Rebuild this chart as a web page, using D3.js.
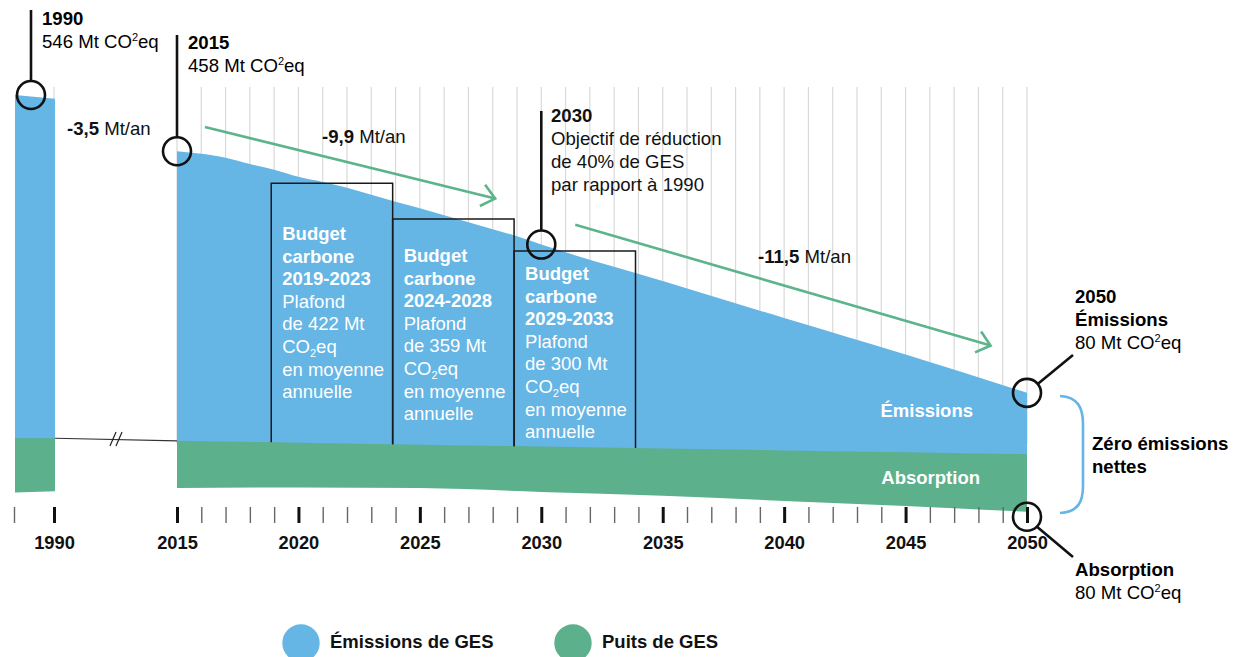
<!DOCTYPE html>
<html>
<head>
<meta charset="utf-8">
<script src="https://cdn.jsdelivr.net/npm/d3@7"></script>
<style>
  body { margin: 0; background: #fff; }
  svg { display: block; font-family: "Liberation Sans", Arial, sans-serif; }
</style>
</head>
<body>
<div id="chart"></div>
<script>
// ---- data (Mt CO2eq) ----
var years     = [2015, 2016, 2017, 2018, 2019, 2020, 2021, 2022, 2023, 2024, 2025, 2026, 2027, 2028, 2029, 2030, 2035, 2040, 2045, 2050];
var emissions = [458, 454, 448, 438, 429, 418, 410, 401, 390, 379, 369, 358, 347, 336, 325, 312, 255, 197, 140, 80];

// sink band: top edge of the band and its thickness
var sinkYears = [2015, 2020, 2025, 2030, 2035, 2040, 2045, 2050];
var sinkTop   = [5, 2, -1, -4, -7, -10, -13, -16];
var sinks     = [74, 70, 68, 71, 74, 79, 84, 90];

// 1990 block (before the axis break)
var oldYears     = [1989, 1990];
var oldEmissions = [546, 540];
var oldSinkTop   = [9, 9];
var oldSinks     = [85, 83];

// carbon budgets
var budgetNames  = ["2019-2023", "2024-2028", "2029-2033"];
var budgetStart  = [2019, 2024, 2029];
var budgetLevels = [408, 352, 302];
var budgetCaps   = [422, 359, 300];

var rates = ["-3,5", "-9,9", "-11,5"];
var axisYears = d3.range(2015, 2051);
var legendLabels = ["Émissions de GES", "Puits de GES"];

// ---- setup ----
var svgWidth = 1247, svgHeight = 657;
var blue = "#65b5e5", green = "#5cb08b", arrowGreen = "#5cb48b";
var fs = 18.6;

var svg = d3.select("#chart").append("svg")
    .attr("width", svgWidth)
    .attr("height", svgHeight);

var x = d3.scaleLinear().domain([2015, 2050]).range([177, 1027]);
var xOld = d3.scaleLinear().domain([1989, 1990]).range([15, 55]);
var y = d3.scaleLinear().domain([0, 546]).range([444, 95]);

// top edge of the sink band, per year
var base = d3.scaleLinear().domain(sinkYears).range(sinkTop);

// grid lines
svg.append("g").selectAll("line")
    .data(axisYears)
    .enter().append("line")
    .attr("x1", d => x(d)).attr("x2", d => x(d))
    .attr("y1", 87).attr("y2", y(0))
    .attr("stroke", "#d9d9d9").attr("stroke-width", 1.2);
svg.append("line")
    .attr("x1", xOld(1990) - 1).attr("x2", xOld(1990) - 1)
    .attr("y1", 87).attr("y2", y(0))
    .attr("stroke", "#d9d9d9").attr("stroke-width", 1.2);

// emissions areas
var emData = years.map((yr, i) => ({ yr: yr, e: emissions[i], b: base(yr) }));
var emArea = d3.area()
    .x(d => x(d.yr))
    .y0(d => y(d.b - 3))
    .y1(d => y(d.e))
    .curve(d3.curveMonotoneX);
svg.append("path").datum(emData).attr("d", emArea).attr("fill", blue);

var oldData = oldYears.map((yr, i) => ({ yr: yr, e: oldEmissions[i], b: oldSinkTop[i], s: oldSinks[i] }));
svg.append("path").datum(oldData)
    .attr("d", d3.area().x(d => xOld(d.yr)).y0(d => y(d.b - 3)).y1(d => y(d.e)))
    .attr("fill", blue);

// sink areas
var sinkData = sinkYears.map((yr, i) => ({ yr: yr, t: sinkTop[i], s: sinks[i] }));
svg.append("path").datum(sinkData)
    .attr("d", d3.area().x(d => x(d.yr)).y0(d => y(d.t - d.s)).y1(d => y(d.t)).curve(d3.curveMonotoneX))
    .attr("fill", green);
svg.append("path").datum(oldData)
    .attr("d", d3.area().x(d => xOld(d.yr)).y0(d => y(d.b - d.s)).y1(d => y(d.b)))
    .attr("fill", green);

// axis break
svg.append("line")
    .attr("x1", xOld(1990)).attr("y1", y(oldSinkTop[1]))
    .attr("x2", x(2015)).attr("y2", y(sinkTop[0]))
    .attr("stroke", "#333").attr("stroke-width", 1.2);
[110, 116].forEach(function(sx) {
    svg.append("line")
        .attr("x1", sx).attr("y1", 446).attr("x2", sx + 6).attr("y2", 432)
        .attr("stroke", "#222").attr("stroke-width", 1.2);
});

// budget boxes
budgetStart.forEach(function(start, i) {
    var x0 = x(start - 0.12), x1 = x(start + 4.88);
    var top = y(budgetLevels[i]);
    svg.append("path")
        .attr("d", "M" + x0 + "," + y(base(start - 0.12)) + "V" + top + "H" + x1 + "V" + y(base(start + 4.88)))
        .attr("fill", "none").attr("stroke", "#1a1a1a").attr("stroke-width", 1.5);
});

var labelTop = [240, 262, 280];
budgetStart.forEach(function(start, i) {
    var tx = x(start - 0.12) + 11;
    var g = svg.append("g").attr("fill", "#fff").attr("font-size", 18.5);
    var lines = [
        { t: "Budget", b: true }, { t: "carbone", b: true }, { t: budgetNames[i], b: true },
        { t: "Plafond" }, { t: "de " + budgetCaps[i] + " Mt" }, { t: "CO2eq", sub: true },
        { t: "en moyenne" }, { t: "annuelle" }
    ];
    lines.forEach(function(l, k) {
        var t = g.append("text").attr("x", tx).attr("y", labelTop[i] + k * 22.6)
            .attr("font-weight", l.b ? "bold" : "normal");
        if (l.sub) {
            t.append("tspan").text("CO");
            t.append("tspan").attr("font-size", 11).attr("dy", 4).text("2");
            t.append("tspan").attr("dy", -4).text("eq");
        } else {
            t.text(l.t);
        }
    });
});

// axes
var axis = d3.axisBottom(x)
    .tickValues(axisYears)
    .tickSize(16)
    .tickPadding(13)
    .tickFormat(d => d % 5 === 0 ? d : "");
var gx = svg.append("g").attr("transform", "translate(0,507)").call(axis);

var axisOld = d3.axisBottom(xOld)
    .tickValues(oldYears)
    .tickSize(16)
    .tickPadding(13)
    .tickFormat(d => d === 1990 ? d : "");
var gxo = svg.append("g").attr("transform", "translate(-1,507)").call(axisOld);

[gx, gxo].forEach(function(g) {
    g.select(".domain").remove();
    g.selectAll(".tick line")
        .attr("stroke", d => d % 5 === 0 ? "#111" : "#666")
        .attr("stroke-width", d => d % 5 === 0 ? 3 : 1.4);
    g.selectAll(".tick text")
        .attr("font-size", 18.3).attr("font-weight", "bold")
        .attr("fill", "#111").style("font-family", "Liberation Sans, Arial, sans-serif");
});

// rate arrows
function arrow(from, to) {
    var p0 = [x(from[0]), y(from[1])], p1 = [x(to[0]), y(to[1])];
    var ang = Math.atan2(p1[1] - p0[1], p1[0] - p0[0]);
    var L = 17, a = 40 * Math.PI / 180;
    var g = svg.append("g").attr("stroke", arrowGreen).attr("stroke-width", 2.6).attr("fill", "none");
    g.append("line").attr("x1", p0[0]).attr("y1", p0[1]).attr("x2", p1[0]).attr("y2", p1[1]);
    g.append("path").attr("d",
        "M" + (p1[0] - L * Math.cos(ang - a)) + "," + (p1[1] - L * Math.sin(ang - a)) +
        "L" + p1[0] + "," + p1[1] +
        "L" + (p1[0] - L * Math.cos(ang + a)) + "," + (p1[1] - L * Math.sin(ang + a)));
}
arrow([2016.15, 496], [2028.1, 384]);
arrow([2031.4, 343], [2048.5, 154]);

function rateLabel(tx, ty, val) {
    var t = svg.append("text").attr("x", tx).attr("y", ty).attr("font-size", fs).attr("fill", "#111");
    t.append("tspan").attr("font-weight", "bold").text(val);
    t.append("tspan").text(" Mt/an");
}
rateLabel(67, 135, rates[0]);
rateLabel(322, 143, rates[1]);
rateLabel(758, 263, rates[2]);

// annotations
function co2(t, val) {
    t.append("tspan").text(val + " Mt CO");
    t.append("tspan").attr("font-size", 11).attr("dy", -7).text("2");
    t.append("tspan").attr("dy", 7).text("eq");
}
function marker(cx, cy) {
    svg.append("circle").attr("cx", cx).attr("cy", cy).attr("r", 14)
        .attr("fill", "none").attr("stroke", "#111").attr("stroke-width", 2.6);
}
function stem(cx, y1, y2) {
    svg.append("line").attr("x1", cx).attr("x2", cx).attr("y1", y1).attr("y2", y2)
        .attr("stroke", "#111").attr("stroke-width", 2.6);
}

var c1990 = [xOld(1989.4), y(oldEmissions[0])];
stem(c1990[0], 10, c1990[1] - 14);
marker(c1990[0], c1990[1]);
svg.append("text").attr("x", 42).attr("y", 25).attr("font-size", fs).attr("font-weight", "bold").text("1990");
co2(svg.append("text").attr("x", 42).attr("y", 48).attr("font-size", fs), 546);

var c2015 = [x(2015), y(emissions[0])];
stem(c2015[0], 35, c2015[1] - 14);
marker(c2015[0], c2015[1]);
svg.append("text").attr("x", 188).attr("y", 49).attr("font-size", fs).attr("font-weight", "bold").text("2015");
co2(svg.append("text").attr("x", 188).attr("y", 72).attr("font-size", fs), 458);

var c2030 = [x(2030), y(emissions[years.indexOf(2030)])];
stem(c2030[0], 111, c2030[1] - 14);
marker(c2030[0], c2030[1]);
var t2030 = svg.append("g").attr("font-size", fs).attr("fill", "#111");
t2030.append("text").attr("x", 551).attr("y", 122).attr("font-weight", "bold").text("2030");
["Objectif de réduction", "de 40% de GES", "par rapport à 1990"].forEach(function(s, k) {
    t2030.append("text").attr("x", 551).attr("y", 145 + k * 22.8).text(s);
});

var c2050e = [x(2050), y(emissions[emissions.length - 1])];
marker(c2050e[0], c2050e[1]);
svg.append("line").attr("x1", c2050e[0] + 11).attr("y1", c2050e[1] - 9).attr("x2", 1073).attr("y2", 355)
    .attr("stroke", "#111").attr("stroke-width", 2.6);
svg.append("text").attr("x", 1075).attr("y", 303).attr("font-size", fs).attr("font-weight", "bold").text("2050");
svg.append("text").attr("x", 1075).attr("y", 326).attr("font-size", fs).attr("font-weight", "bold").text("Émissions");
co2(svg.append("text").attr("x", 1075).attr("y", 349).attr("font-size", fs), 80);

var c2050a = [x(2050), y(sinkTop[sinkTop.length - 1] - sinks[sinks.length - 1]) + 5];
marker(c2050a[0], c2050a[1]);
svg.append("line").attr("x1", c2050a[0] + 10).attr("y1", c2050a[1] + 10).attr("x2", 1073).attr("y2", 557)
    .attr("stroke", "#111").attr("stroke-width", 2.6);
svg.append("text").attr("x", 1075).attr("y", 576).attr("font-size", fs).attr("font-weight", "bold").text("Absorption");
co2(svg.append("text").attr("x", 1075).attr("y", 599).attr("font-size", fs), 80);

// band labels
svg.append("text").attr("x", 973).attr("y", 417).attr("text-anchor", "end")
    .attr("font-size", 18.5).attr("font-weight", "bold").attr("fill", "#fff").text("Émissions");
svg.append("text").attr("x", 980).attr("y", 484).attr("text-anchor", "end")
    .attr("font-size", 18.5).attr("font-weight", "bold").attr("fill", "#fff").text("Absorption");

// net zero brace
svg.append("path")
    .attr("d", "M1060,396 C1078,397 1083,408 1083,424 V486 C1083,502 1078,512 1060,513")
    .attr("fill", "none").attr("stroke", blue).attr("stroke-width", 2.6);
svg.append("text").attr("x", 1092).attr("y", 450).attr("font-size", fs).attr("font-weight", "bold").text("Zéro émissions");
svg.append("text").attr("x", 1092).attr("y", 473).attr("font-size", fs).attr("font-weight", "bold").text("nettes");

// legend
var legendColors = [blue, green];
var legendX = [301, 573];
legendLabels.forEach(function(lab, i) {
    svg.append("circle").attr("cx", legendX[i]).attr("cy", 643).attr("r", 18.7).attr("fill", legendColors[i]);
    svg.append("text").attr("x", legendX[i] + 29).attr("y", 648)
        .attr("font-size", 18.5).attr("font-weight", "bold").attr("fill", "#111").text(lab);
});
</script>
</body>
</html>
